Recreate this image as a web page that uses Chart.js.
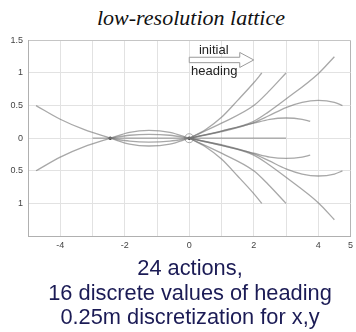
<!DOCTYPE html>
<html>
<head>
<meta charset="utf-8">
<script src="https://cdn.jsdelivr.net/npm/chart.js@4.4.1/dist/chart.umd.min.js"></script>
<style>
  body { margin: 0; background: #fff; }
  #marco { position: relative; width: 356px; height: 332px; overflow: hidden; }
  #titulo {
    position: absolute; left: 0; top: 5px; width: 382px; text-align: center;
    font: italic 22px "Liberation Serif", "Times New Roman", serif; line-height: 25px; color: #111;
  }
  #lienzo { position: absolute; left: 0; top: 30px; width: 356px; height: 228px; }
  #pie {
    position: absolute; left: 0; top: 256px; width: 380px; text-align: center;
    font: 21.8px "Liberation Sans", Arial, sans-serif; line-height: 24.5px; color: #1b1b55;
  }
</style>
</head>
<body>
<div id="marco">
  <div id="titulo">low-resolution lattice</div>
  <div id="lienzo"><canvas id="grafica" width="356" height="228"></canvas></div>
  <div id="pie">24 actions,<br>16 discrete values of heading<br>0.25m discretization for x,y</div>
</div>
<script>
// Ticks de los ejes (tal como aparecen en la imagen)
var xTicks = [-5, -4, -3, -2, -1, 0, 1, 2, 3, 4, 5];
var xTickLabels = ['', '-4', '', '-2', '', '0', '', '2', '', '4', '5'];
var yTicks = [-1.5, -1, -0.5, 0, 0.5, 1, 1.5];
var yTickLabels = ['', '1', '0.5', '0', '0.5', '1', '1.5'];

// Primitivas hacia delante
var adelante1 = [[0, 0], [0.5, 0.13], [1, 0.32], [1.5, 0.58], [2, 0.85], [2.25, 1]];
var adelante2 = [[0, 0], [1, 0.23], [2, 0.5], [2.45, 0.71], [3, 1]];
var adelante3 = [[0, 0], [1, 0.11], [2, 0.26], [2.45, 0.4], [3, 0.6], [4, 0.99], [4.5, 1.25]];
var adelante4 = [[0, 0], [1, 0.1], [2, 0.24], [2.45, 0.34], [3, 0.47], [3.5, 0.55], [4, 0.58], [4.5, 0.55], [4.75, 0.5]];
var adelante5 = [[0, 0], [1, 0.11], [2, 0.23], [2.5, 0.29], [3, 0.31], [3.5, 0.29], [3.75, 0.26]];
var recto = [[-3, 0], [0, 0], [3, 0]];
var abajo1 = [[0, 0], [0.5, -0.13], [1, -0.32], [1.5, -0.58], [2, -0.85], [2.25, -1]];
var abajo2 = [[0, 0], [1, -0.23], [2, -0.5], [2.45, -0.71], [3, -1]];
var abajo3 = [[0, 0], [1, -0.11], [2, -0.26], [2.45, -0.4], [3, -0.6], [4, -0.99], [4.5, -1.25]];
var abajo4 = [[0, 0], [1, -0.1], [2, -0.24], [2.45, -0.34], [3, -0.47], [3.5, -0.55], [4, -0.58], [4.5, -0.55], [4.75, -0.5]];
var abajo5 = [[0, 0], [1, -0.11], [2, -0.23], [2.5, -0.29], [3, -0.31], [3.5, -0.29], [3.75, -0.26]];

// Primitivas hacia atrás
var atrasArriba = [[-4.75, 0.5], [-4, 0.29], [-3.25, 0.13], [-2.45, 0]];
var atrasAbajo = [[-4.75, -0.5], [-4, -0.29], [-3.25, -0.13], [-2.45, 0]];
var lente1 = [[-2.45, 0], [-1.85, 0.09], [-1.25, 0.12], [-0.6, 0.09], [0, 0]];
var lente2 = [[-2.45, 0], [-1.85, 0.045], [-1.25, 0.06], [-0.6, 0.045], [0, 0]];
var lente3 = [[-2.45, 0], [-1.85, -0.045], [-1.25, -0.06], [-0.6, -0.045], [0, 0]];
var lente4 = [[-2.45, 0], [-1.85, -0.09], [-1.25, -0.12], [-0.6, -0.09], [0, 0]];

var nodos = [[0, 0], [-2.45, 0]];
var origen = [[0, 0]];

// Flecha de "initial heading" (x, y en unidades del gráfico)
var flechaDesde = [0, 1.2];
var flechaHasta = [2, 1.2];

var curvas = [adelante1, adelante2, adelante3, adelante4, adelante5, recto,
              abajo1, abajo2, abajo3, abajo4, abajo5,
              atrasArriba, atrasAbajo, lente1, lente2, lente3, lente4];

function aPuntos(arr) {
    return arr.map(p => ({ x: p[0], y: p[1] }));
}

var datasets = curvas.map(c => ({
    data: aPuntos(c),
    showLine: true,
    borderColor: 'rgba(115,115,115,0.62)',
    borderWidth: 1.3,
    pointRadius: 0,
    cubicInterpolationMode: 'monotone',
    fill: false
}));

datasets.push({
    data: aPuntos(nodos),
    showLine: false,
    pointRadius: 1.8,
    backgroundColor: 'rgba(25,25,25,0.85)',
    borderWidth: 0
});
datasets.push({
    data: aPuntos(origen),
    showLine: false,
    pointRadius: 4.5,
    backgroundColor: 'rgba(255,255,255,0)',
    borderColor: '#aaaaaa',
    borderWidth: 1
});

// Plugin para dibujar la flecha hueca y su texto
var pluginFlecha = {
    id: 'flecha',
    afterDatasetsDraw(chart) {
        var ctx = chart.ctx;
        var sx = chart.scales.x, sy = chart.scales.y;
        var x0 = sx.getPixelForValue(flechaDesde[0]);
        var x1 = sx.getPixelForValue(flechaHasta[0]);
        var yc = sy.getPixelForValue(flechaDesde[1]);
        var xb = x1 - 14;
        ctx.save();
        ctx.beginPath();
        ctx.moveTo(x0, yc - 2.7);
        ctx.lineTo(xb, yc - 2.7);
        ctx.lineTo(xb, yc - 7.5);
        ctx.lineTo(x1, yc);
        ctx.lineTo(xb, yc + 7.5);
        ctx.lineTo(xb, yc + 2.7);
        ctx.lineTo(x0, yc + 2.7);
        ctx.closePath();
        ctx.fillStyle = '#ffffff';
        ctx.fill();
        ctx.strokeStyle = '#9a9a9a';
        ctx.lineWidth = 1;
        ctx.stroke();
        ctx.fillStyle = '#222';
        ctx.font = '13px "Liberation Sans", Arial, sans-serif';
        ctx.textAlign = 'center';
        ctx.textBaseline = 'middle';
        ctx.fillText('initial', x0 + 24.5, yc - 9.5);
        ctx.fillText('heading', x0 + 25, yc + 11);
        ctx.restore();
    }
};

var ctx = document.getElementById('grafica').getContext('2d');
var myChart = new Chart(ctx, {
    type: 'scatter',
    data: { datasets: datasets },
    options: {
        responsive: false,
        animation: false,
        events: [],
        layout: { padding: { top: 8, right: 2, left: 4, bottom: 0 } },
        plugins: { legend: { display: false }, tooltip: { enabled: false } },
        scales: {
            x: {
                type: 'linear',
                min: -5,
                max: 5,
                afterBuildTicks: s => { s.ticks = xTicks.map(v => ({ value: v })); },
                afterFit: s => { s.height = 22; s.paddingLeft = 0; s.paddingRight = 0; },
                ticks: {
                    autoSkip: false,
                    maxRotation: 0,
                    padding: 4,
                    color: '#444',
                    font: { family: '"Liberation Sans", Arial, sans-serif', size: 9 },
                    callback: (v, i) => xTickLabels[i]
                },
                grid: {
                    drawTicks: false,
                    color: c => (c.tick && c.tick.value === 5) ? '#b5b5b5' : '#e2e2e2'
                },
                border: { color: '#b0b0b0' }
            },
            y: {
                type: 'linear',
                min: -1.5,
                max: 1.5,
                afterBuildTicks: s => { s.ticks = yTicks.map(v => ({ value: v })); },
                afterFit: s => { s.width = 24; },
                ticks: {
                    padding: 5,
                    color: '#444',
                    font: { family: '"Liberation Sans", Arial, sans-serif', size: 9 },
                    callback: (v, i) => yTickLabels[i]
                },
                grid: {
                    drawTicks: false,
                    color: c => (c.tick && c.tick.value === 1.5) ? '#c5c5c5' : '#e2e2e2'
                },
                border: { color: '#b0b0b0' }
            }
        }
    },
    plugins: [pluginFlecha]
});
</script>
</body>
</html>
